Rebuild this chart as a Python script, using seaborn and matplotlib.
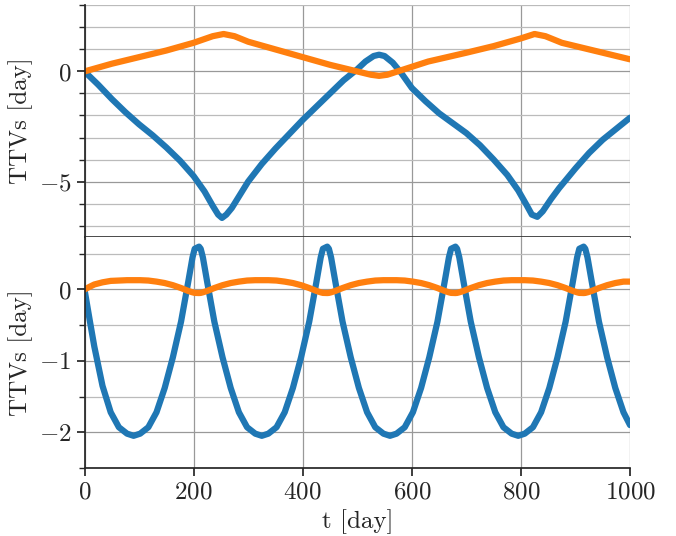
import numpy as np
import pandas as pd
import matplotlib
matplotlib.use("Agg")
import matplotlib.pyplot as plt
import seaborn as sns
from matplotlib.ticker import MultipleLocator

# top panel
t_top = [0, 25, 50, 75, 100, 125, 150, 175, 200, 220, 235, 245, 252, 260, 270, 285, 300, 325,
         350, 375, 400, 425, 450, 475, 500, 515, 530, 540, 550, 565, 580, 600, 625, 650, 675,
         700, 725, 750, 775, 795, 810, 820, 830, 840, 855, 870, 900, 925, 950, 975, 1000]
b_top = [0, -0.6, -1.25, -1.85, -2.4, -2.9, -3.45, -4.05, -4.75, -5.45, -6.1, -6.5, -6.65, -6.5,
         -6.2, -5.6, -5.0, -4.2, -3.5, -2.85, -2.2, -1.6, -1.0, -0.4, 0.1, 0.45, 0.7, 0.76, 0.7,
         0.4, -0.05, -0.75, -1.35, -1.9, -2.35, -2.8, -3.35, -4.0, -4.7, -5.4, -6.05, -6.5, -6.6,
         -6.35, -5.8, -5.3, -4.4, -3.7, -3.1, -2.6, -2.1]
t_top_o = [0, 50, 100, 150, 200, 235, 255, 275, 300, 350, 400, 450, 500, 525, 540, 555, 580,
           630, 700, 750, 800, 825, 845, 875, 925, 1000]
o_top = [0, 0.35, 0.65, 0.95, 1.3, 1.6, 1.7, 1.6, 1.35, 1.0, 0.65, 0.3, 0.0, -0.15, -0.2, -0.15,
         0.05, 0.45, 0.85, 1.15, 1.5, 1.7, 1.6, 1.3, 1.0, 0.55]

# bottom panel: one oscillation cycle read around a blue minimum, and the minimum times
cyc_dt = [-115, -112, -108, -100, -87, -72, -57, -42, -27, -12, 0, 12, 27, 42, 57, 72, 87, 100, 108, 112]
cyc_b = [0.6, 0.57, 0.45, 0.1, -0.45, -0.95, -1.38, -1.72, -1.93, -2.02, -2.05, -2.02, -1.93,
         -1.72, -1.38, -0.95, -0.45, 0.1, 0.45, 0.57]
cyc_o = [-0.05, -0.048, -0.04, -0.02, 0.02, 0.06, 0.09, 0.11, 0.125, 0.13, 0.13, 0.13, 0.125,
         0.11, 0.09, 0.06, 0.02, -0.02, -0.04, -0.048]
minima = [325, 560, 795, 1030]
t_start = [0, 10, 18, 33, 48, 63, 78, 90, 102, 117, 132, 147, 162, 177, 190, 198, 202]
b_start = [0, -0.45, -0.8, -1.35, -1.72, -1.93, -2.02, -2.05, -2.02, -1.93, -1.72, -1.38, -0.95,
           -0.45, 0.1, 0.45, 0.57]
o_start = [0, 0.04, 0.07, 0.1, 0.12, 0.125, 0.13, 0.13, 0.13, 0.125, 0.11, 0.09, 0.06, 0.02,
           -0.02, -0.04, -0.048]
t_end, b_end, o_end = 1000, -1.9, 0.11

t_bot, b_bot, o_bot = list(t_start), list(b_start), list(o_start)
for m in minima:
    for dt, vb, vo in zip(cyc_dt, cyc_b, cyc_o):
        if m + dt < 1000:
            t_bot.append(m + dt); b_bot.append(vb); o_bot.append(vo)
t_bot.append(t_end); b_bot.append(b_end); o_bot.append(o_end)

sns.set_theme(style="ticks")
plt.rcParams["font.family"] = "serif"
plt.rcParams["font.serif"] = ["cmr10"]
plt.rcParams["mathtext.fontset"] = "cm"
plt.rcParams["axes.formatter.use_mathtext"] = True
plt.rcParams["axes.unicode_minus"] = True

fig, (ax1, ax2) = plt.subplots(2, 1, sharex=True, figsize=(6.76, 5.36), dpi=100,
                               gridspec_kw=dict(hspace=0))
fig.subplots_adjust(left=0.125, right=0.932, top=0.99, bottom=0.127)

series = [(ax1, t_top, b_top, t_top_o, o_top), (ax2, t_bot, b_bot, t_bot, o_bot)]
for ax, tb, b, to, o in series:
    sns.lineplot(x=tb, y=b, ax=ax, color="#1f77b4", lw=4.5, sort=True)
    sns.lineplot(x=to, y=o, ax=ax, color="#ff7f0e", lw=4.5, sort=True)
    ax.grid(True, which="major", color="#999999", lw=0.9)
    ax.grid(True, which="minor", axis="y", color="#bbbbbb", lw=0.9)
    ax.spines["top"].set_visible(False)
    ax.spines["right"].set_visible(False)
    ax.set_ylabel("TTVs [day]", fontsize=18)
    ax.tick_params(labelsize=18)
    ax.set_xlabel("")

ax1.set_ylim(-7.5, 3)
ax1.yaxis.set_major_locator(MultipleLocator(5))
ax1.yaxis.set_minor_locator(MultipleLocator(1))
ax1.spines["bottom"].set_color("#333333")
ax1.tick_params(axis="x", bottom=False)

ax2.set_ylim(-2.5, 0.74)
ax2.yaxis.set_major_locator(MultipleLocator(1))
ax2.yaxis.set_minor_locator(MultipleLocator(0.5))
ax2.set_xlim(0, 1000)
ax2.xaxis.set_major_locator(MultipleLocator(200))
ax2.set_xlabel("t [day]", fontsize=18)

fig.savefig("out.png", dpi=100)
